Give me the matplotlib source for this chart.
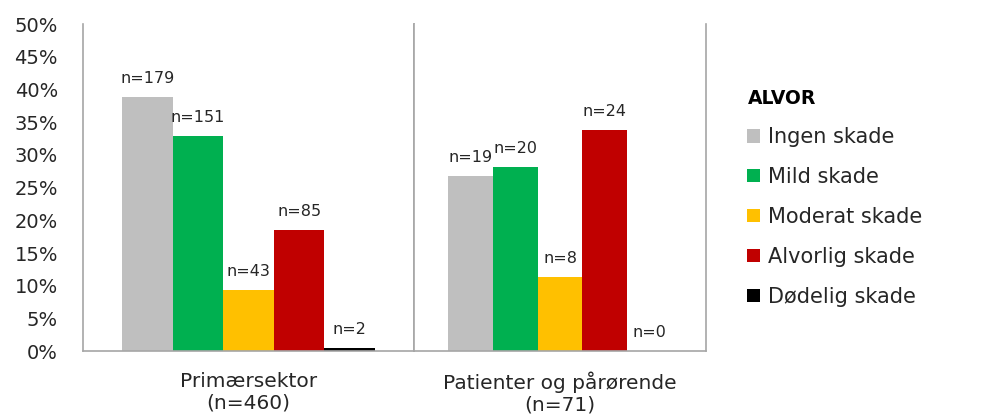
import matplotlib
matplotlib.use('Agg')
import numpy as np
from matplotlib import pyplot as plt
from matplotlib.patches import Patch

plt.rcParams['font.family'] = ['DejaVu Sans']

groups = ['Primærsektor\n(n=460)', 'Patienter og pårørende\n(n=71)']
group_totals = [460, 71]
severity = ['Ingen skade', 'Mild skade', 'Moderat skade', 'Alvorlig skade', 'Dødelig skade']
colors = ['#BFBFBF', '#00B050', '#FFC000', '#C00000', '#000000']
counts_primary = [179, 151, 43, 85, 2]
counts_patients = [19, 20, 8, 24, 0]
yticks = [0, 5, 10, 15, 20, 25, 30, 35, 40, 45, 50]

fig, axs = plt.subplots(1, 2, figsize=(9.92, 4.16), dpi=100, sharey=True,
                        gridspec_kw={'width_ratios': [331, 292], 'wspace': 0})
fig.subplots_adjust(left=0.0837, right=0.7117, bottom=0.156, top=0.942)

bar_w = 0.153
for ax, counts, total, label in zip(axs, [counts_primary, counts_patients], group_totals, groups):
    pct = np.array(counts) / total * 100
    x = 0.5 + (np.arange(5) - 2) * bar_w
    ax.bar(x, pct, width=bar_w, color=colors, edgecolor='none')
    for xi, p, c in zip(x, pct, counts):
        ax.annotate(f'n={c}', (xi, p), xytext=(0, 8), textcoords='offset points',
                    ha='center', va='bottom', fontsize=11.5, color='#262626')
    ax.set_xlim(0, 1)
    ax.set_xticks([0.5])
    ax.set_xticklabels([label], fontsize=14.5, color='#262626', linespacing=1.15)
    ax.tick_params(axis='x', length=0, pad=15)
    ax.spines['top'].set_visible(False)
    for s in ['left', 'right', 'bottom']:
        ax.spines[s].set_color('#A6A6A6')
        ax.spines[s].set_linewidth(1.2)

axs[0].set_ylim(0, 50)
axs[0].set_yticks(yticks)
axs[0].set_yticklabels([f'{t}%' for t in yticks], fontsize=14, color='#262626')
axs[0].tick_params(axis='y', length=0, pad=18)
axs[1].tick_params(axis='y', length=0)

handles = [Patch(facecolor=c, edgecolor='none') for c in colors]
leg = fig.legend(handles, severity, loc='upper left', bbox_to_anchor=(0.743, 0.812),
                 frameon=False, fontsize=15, title='ALVOR', handlelength=0.6,
                 handleheight=0.6, handletextpad=0.4, labelspacing=0.95,
                 borderpad=0, alignment='left')
leg.get_title().set_fontweight('bold')
leg.get_title().set_fontsize(13.5)
for t in leg.get_texts():
    t.set_color('#262626')

plt.savefig('out.png', dpi=100)
